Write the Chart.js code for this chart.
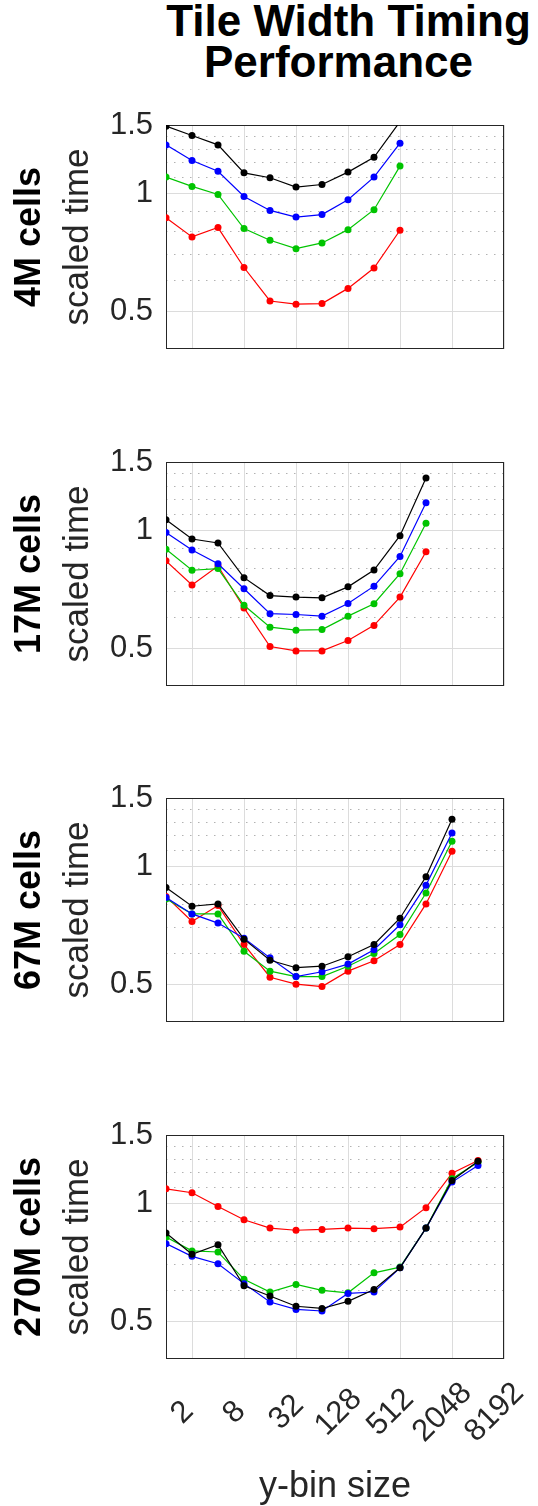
<!DOCTYPE html>
<html>
<head>
<meta charset="utf-8">
<title>Tile Width Timing Performance</title>
<script src="https://cdn.jsdelivr.net/npm/chart.js@4.4.0/dist/chart.umd.min.js"></script>
<style>
    html, body { margin: 0; padding: 0; background: #fff; }
    body { position: relative; width: 538px; height: 1506px; overflow: hidden;
           font-family: "Liberation Sans", Arial, Helvetica, sans-serif; }
    .title { position: absolute; left: 0; width: 677px; text-align: center; white-space: nowrap;
             font-weight: bold; font-size: 44px; line-height: 44px; color: #000; }
    .panel { position: absolute; left: 0; width: 538px; }
</style>
</head>
<body>
<div class="title" style="top:-1px;left:10px">Tile Width Timing</div>
<div class="title" style="top:40px">Performance</div>
<div class="panel" id="p0"><canvas id="c0"></canvas></div>
<div class="panel" id="p1"><canvas id="c1"></canvas></div>
<div class="panel" id="p2"><canvas id="c2"></canvas></div>
<div class="panel" id="p3"><canvas id="c3"></canvas></div>

<script>
// y-bin sizes (x axis, log2 spacing) and axis ticks
const BIN_SIZES = [1, 2, 4, 8, 16, 32, 64, 128, 256, 512, 1024, 2048, 4096];
const X_TICKS   = [2, 8, 32, 128, 512, 2048, 8192];
const Y_TICKS   = [0.5, 1, 1.5];
const Y_MINOR   = [0.6, 0.7, 0.8, 0.9, 1.1, 1.2, 1.3, 1.4];
const PANEL_LABELS = ['4M cells', '17M cells', '67M cells', '270M cells'];
const SERIES_COLORS = ['#000000', '#0000ff', '#00c400', '#ff0000'];

// scaled time, one array per curve
const black4M = [1.49, 1.41, 1.334, 1.131, 1.099, 1.04, 1.056, 1.136, 1.24, 1.53];
const blue4M  = [1.334, 1.217, 1.142, 0.984, 0.906, 0.871, 0.884, 0.965, 1.103, 1.347];
const green4M = [1.103, 1.044, 0.996, 0.814, 0.760, 0.723, 0.748, 0.809, 0.910, 1.177];
const red4M   = [0.868, 0.775, 0.819, 0.647, 0.531, 0.521, 0.523, 0.572, 0.645, 0.806];

const black17M = [1.067, 0.952, 0.930, 0.758, 0.682, 0.676, 0.673, 0.718, 0.793, 0.971, 1.364];
const blue17M  = [0.990, 0.892, 0.823, 0.710, 0.613, 0.610, 0.604, 0.651, 0.721, 0.859, 1.179];
const green17M = [0.897, 0.792, 0.800, 0.644, 0.566, 0.556, 0.558, 0.604, 0.650, 0.776, 1.045];
const red17M   = [0.837, 0.726, 0.812, 0.634, 0.505, 0.492, 0.492, 0.523, 0.572, 0.676, 0.883];

const black67M = [0.885, 0.792, 0.803, 0.652, 0.576, 0.551, 0.556, 0.588, 0.632, 0.738, 0.943, 1.324];
const blue67M  = [0.834, 0.757, 0.717, 0.656, 0.584, 0.523, 0.538, 0.563, 0.613, 0.710, 0.897, 1.220];
const green67M = [0.827, 0.757, 0.757, 0.607, 0.540, 0.523, 0.523, 0.556, 0.599, 0.670, 0.856, 1.162];
const red67M   = [0.839, 0.724, 0.795, 0.632, 0.521, 0.500, 0.493, 0.540, 0.574, 0.632, 0.803, 1.096];

const black270M = [0.841, 0.742, 0.785, 0.616, 0.580, 0.546, 0.539, 0.562, 0.603, 0.685, 0.866, 1.147, 1.285];
const blue270M  = [0.790, 0.733, 0.702, 0.624, 0.560, 0.536, 0.531, 0.589, 0.594, 0.685, 0.866, 1.136, 1.253];
const green270M = [0.821, 0.757, 0.752, 0.640, 0.594, 0.621, 0.600, 0.591, 0.665, 0.688, 0.866, 1.159, 1.278];
const red270M   = [1.092, 1.067, 0.984, 0.910, 0.866, 0.855, 0.859, 0.866, 0.863, 0.871, 0.977, 1.197, 1.290];

const PANEL_SERIES = [
    [black4M, blue4M, green4M, red4M],
    [black17M, blue17M, green17M, red17M],
    [black67M, blue67M, green67M, red67M],
    [black270M, blue270M, green270M, red270M],
];

// layout (px): chart-area tops, common plot height
const AREA_TOPS = [125, 462, 798, 1135];
const AREA_H = 224;
const PAD_TOP = 24;
const FONT = '"Liberation Sans", Arial, Helvetica, sans-serif';

Chart.defaults.font.family = FONT;
Chart.defaults.color = '#262626';

const setTicks = (values) => (scale) => { scale.ticks = values.map(v => ({ value: v })); };

// axes box drawn under the data, like MATLAB's
const framePlugin = {
    id: 'frame',
    beforeDatasetsDraw(chart) {
        const { ctx, chartArea: a } = chart;
        ctx.save();
        ctx.strokeStyle = '#262626';
        ctx.lineWidth = 1;
        ctx.strokeRect(Math.round(a.left) + 0.5, Math.round(a.top) + 0.5,
                       Math.round(a.width) - 1, Math.round(a.height) - 1);
        ctx.restore();
    }
};

function buildPanel(i) {
    const isLast = i === PANEL_SERIES.length - 1;
    const xAxisH = isLast ? 147 : 0;
    const panelTop = AREA_TOPS[i] - PAD_TOP;
    const panelH = isLast ? 1506 - panelTop : PAD_TOP + AREA_H + 24;
    const panel = document.getElementById('p' + i);
    panel.style.top = panelTop + 'px';
    panel.style.height = panelH + 'px';

    const datasets = PANEL_SERIES[i].map((vals, k) => ({
        data: vals.map((y, j) => ({ x: BIN_SIZES[j], y })),
        borderColor: SERIES_COLORS[k],
        backgroundColor: SERIES_COLORS[k],
        borderWidth: 1.2,
        pointRadius: 3.5,
        pointBorderWidth: 0,
        pointHoverRadius: 3.5,
        tension: 0,
    }));

    return new Chart(document.getElementById('c' + i), {
        type: 'line',
        data: { datasets },
        options: {
            responsive: true,
            maintainAspectRatio: false,
            animation: false,
            devicePixelRatio: 1,
            layout: { padding: { left: 0, right: 34, top: PAD_TOP, bottom: isLast ? 0 : 24 } },
            plugins: { legend: { display: false }, tooltip: { enabled: false } },
            scales: {
                x: {
                    type: 'logarithmic',
                    min: 1, max: 8192,
                    afterBuildTicks: setTicks(X_TICKS),
                    afterFit: (s) => { s.height = xAxisH; s.paddingLeft = 0; s.paddingRight = 0; },
                    grid: { color: '#dcdcdc', lineWidth: 1, drawTicks: false },
                    border: { display: false },
                    ticks: {
                        display: isLast,
                        autoSkip: false,
                        minRotation: 45, maxRotation: 45,
                        padding: 16,
                        labelOffset: 15,
                        color: '#262626',
                        font: { size: 31 },
                        // trailing spaces centre each rotated label on its tick
                        callback: (v) => String(v) + ' '.repeat(4 - String(v).length),
                    },
                    title: {
                        display: isLast,
                        text: 'y-bin size',
                        color: '#262626',
                        font: { size: 36, lineHeight: 1 },
                        padding: { top: 0, bottom: 1 },
                    },
                },
                y: {
                    type: 'logarithmic',
                    position: 'left',
                    weight: 0,
                    min: 0.4, max: 1.5,
                    afterBuildTicks: setTicks(Y_TICKS),
                    afterFit: (s) => { s.width = 105; s.paddingTop = 0; s.paddingBottom = 0; },
                    grid: { color: '#dcdcdc', lineWidth: 1, drawTicks: false },
                    border: { display: false },
                    ticks: {
                        padding: 13,
                        color: '#262626',
                        font: { size: 31 },
                        callback: (v) => String(v),
                    },
                    title: {
                        display: true,
                        text: 'scaled time',
                        color: '#262626',
                        font: { size: 35, lineHeight: 1 },
                        padding: { top: 0, bottom: 0 },
                    },
                },
                yMinor: {
                    type: 'logarithmic',
                    position: 'left',
                    weight: 1,
                    min: 0.4, max: 1.5,
                    afterBuildTicks: setTicks(Y_MINOR),
                    afterFit: (s) => { s.width = 61; s.paddingTop = 0; s.paddingBottom = 0; },
                    grid: { color: 'rgba(0,0,0,0.3)', lineWidth: 1, drawTicks: false },
                    border: { display: false, dash: [1.5, 6.5] },
                    ticks: { display: false },
                    title: {
                        display: true,
                        text: PANEL_LABELS[i],
                        color: '#000000',
                        font: { size: 36, weight: 'bold', lineHeight: 1 },
                        padding: { top: 12, bottom: 0 },
                    },
                },
            },
        },
        plugins: [framePlugin],
    });
}

PANEL_SERIES.forEach((_, i) => buildPanel(i));
</script>
</body>
</html>
